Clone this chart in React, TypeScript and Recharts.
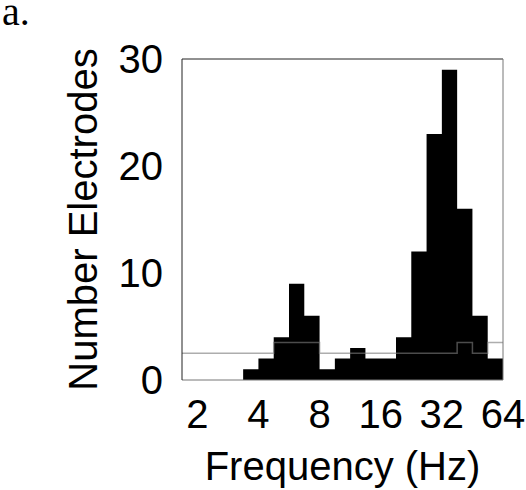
import React from 'react';
import {
  ComposedChart,
  Area,
  Line,
  XAxis,
  YAxis,
  ReferenceLine,
} from 'recharts';

// bin edges in octaves (log2 Hz), quarter-octave bins
const binEdges = [
  0.75, 1, 1.25, 1.5, 1.75, 2, 2.25, 2.5, 2.75, 3, 3.25, 3.5, 3.75, 4, 4.25,
  4.5, 4.75, 5, 5.25, 5.5, 5.75, 6,
];

// electrodes per bin
const counts = [0, 0, 0, 0, 1, 2, 4, 9, 6, 1, 2, 3, 2, 2, 4, 12, 23, 29, 16, 6, 2];

// chance level per bin (grey step line)
const chance = [
  2.5, 2.5, 2.5, 2.5, 2.5, 2.5, 3.5, 3.5, 3.5, 2.5, 2.5, 2.5, 2.5, 2.5, 2.5,
  2.5, 2.5, 2.5, 3.5, 2.5, 3.5,
];

const xTicks = [1, 2, 3, 4, 5, 6];
const yTicks = [0, 10, 20, 30];
const innerTicks = [10, 20];

const FONT = '"Liberation Sans", Arial, sans-serif';

// one row per bin edge, last edge repeats the last bin so the steps reach the frame
const data = binEdges.map((edge, i) => {
  const k = Math.min(i, counts.length - 1);
  return { edge, count: counts[k], chance: chance[k] };
});

const App: React.FC = () => {
  const tickStyle = { fill: '#000', fontSize: 40, fontFamily: FONT };

  return (
    <div
      style={{
        position: 'absolute',
        left: 0,
        top: 0,
        width: 526,
        height: 490,
        overflow: 'hidden',
        background: '#fff',
      }}
    >
      <ComposedChart
        width={526}
        height={490}
        data={data}
        margin={{ top: 59, right: 23, bottom: 0, left: 0 }}
      >
        <XAxis
          dataKey="edge"
          type="number"
          domain={[0.75, 6]}
          ticks={xTicks}
          tickFormatter={(v: number) => String(Math.round(Math.pow(2, v)))}
          tick={tickStyle}
          tickLine={false}
          tickSize={0}
          tickMargin={20}
          height={110}
          axisLine={{ stroke: '#777', strokeWidth: 1 }}
          label={{
            value: 'Frequency (Hz)',
            position: 'insideBottom',
            offset: 10,
            fill: '#000',
            fontSize: 40,
            fontFamily: FONT,
          }}
        />
        <YAxis
          domain={[0, 30]}
          ticks={yTicks}
          width={182}
          tick={tickStyle}
          tickLine={false}
          tickSize={0}
          tickMargin={19}
          axisLine={{ stroke: '#222', strokeWidth: 1 }}
          label={{
            value: 'Number Electrodes',
            angle: -90,
            position: 'center',
            dx: -8.5,
            fill: '#000',
            fontSize: 40,
            fontFamily: FONT,
          }}
        />
        <YAxis
          yAxisId="inner"
          domain={[0, 30]}
          ticks={innerTicks}
          mirror
          width={0}
          tick={false}
          axisLine={false}
          tickLine={{ stroke: '#000', strokeWidth: 1 }}
          tickSize={6}
        />
        <Area
          type="stepAfter"
          dataKey="count"
          fill="#000"
          fillOpacity={1}
          stroke="none"
          isAnimationActive={false}
        />
        <Line
          type="stepAfter"
          dataKey="chance"
          stroke="#7a7a7a"
          strokeOpacity={0.62}
          strokeWidth={1.5}
          dot={false}
          isAnimationActive={false}
        />
        <ReferenceLine y={30} stroke="#222" strokeWidth={1} />
        <ReferenceLine x={6} stroke="#777" strokeWidth={1} />
      </ComposedChart>
      <div
        style={{
          position: 'absolute',
          left: 2,
          top: 0,
          fontFamily: '"Liberation Serif", "Times New Roman", serif',
          fontSize: 40,
          lineHeight: '23px',
          color: '#000',
        }}
      >
        a.
      </div>
    </div>
  );
};

export default App;
